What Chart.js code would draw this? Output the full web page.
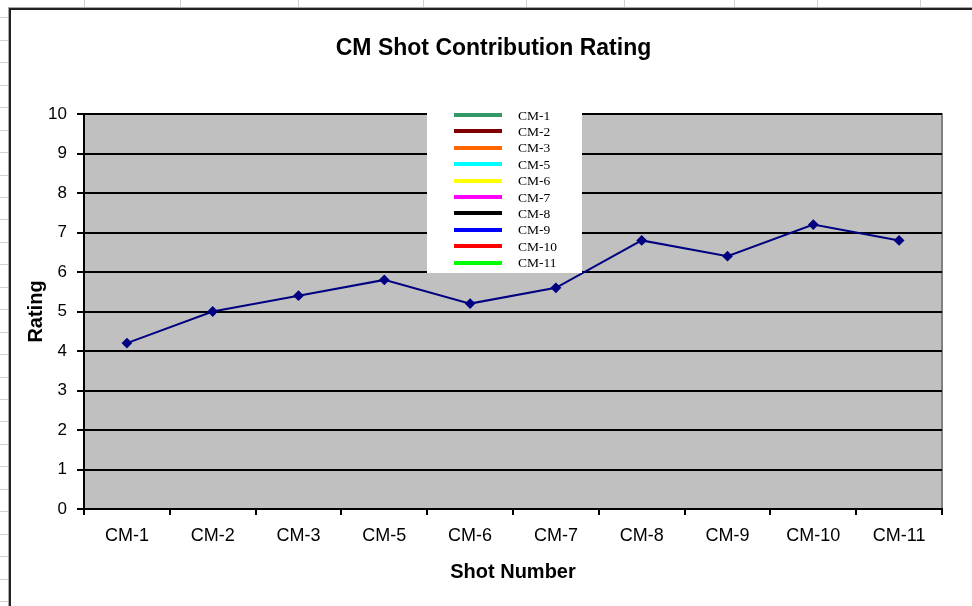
<!DOCTYPE html>
<html><head><meta charset="utf-8">
<script src="https://cdn.jsdelivr.net/npm/chart.js@4"></script>
<style>html,body{margin:0;padding:0;background:#fff;overflow:hidden}#wrap{position:absolute;left:0;top:0;width:972px;height:606px}</style>
</head><body><div id="wrap"><canvas id="c" width="972" height="606"></canvas></div>
<script>
const categories = ['CM-1','CM-2','CM-3','CM-5','CM-6','CM-7','CM-8','CM-9','CM-10','CM-11'];
const ratings = [4.2, 5.0, 5.4, 5.8, 5.2, 5.6, 6.8, 6.4, 7.2, 6.8];
const legendNames = ['CM-1','CM-2','CM-3','CM-5','CM-6','CM-7','CM-8','CM-9','CM-10','CM-11'];
const legendColors = ['#339966','#800000','#FF6600','#00FFFF','#FFFF00','#FF00FF','#000000','#0000FF','#FF0000','#00FF00'];
const chartTitle = 'CM Shot Contribution Rating';
const xTitle = 'Shot Number';
const yTitle = 'Rating';

const SANS = '"Liberation Sans", Arial, sans-serif';
const SERIF = '"Liberation Serif", "Times New Roman", serif';

const backdrop = {
  id: 'backdrop',
  beforeDraw(chart) {
    const ctx = chart.ctx, a = chart.chartArea;
    ctx.save();
    ctx.fillStyle = '#fff';
    ctx.fillRect(0, 0, chart.width, chart.height);
    // spreadsheet cell lines outside the chart object
    ctx.strokeStyle = '#d0d0d0'; ctx.lineWidth = 1;
    [84, 180, 298, 423, 526, 624, 734, 817, 920].forEach(x => {
      ctx.beginPath(); ctx.moveTo(x + 0.5, 0); ctx.lineTo(x + 0.5, 7); ctx.stroke();
    });
    for (let y = 17.4; y < chart.height; y += 22.45) {
      const yy = Math.round(y) + 0.5;
      ctx.beginPath(); ctx.moveTo(0, yy); ctx.lineTo(8, yy); ctx.stroke();
    }
    // chart object border
    ctx.strokeStyle = '#a8a8a8'; ctx.lineWidth = 1;
    ctx.strokeRect(8.5, 7.5, 3000, 3000);
    ctx.strokeStyle = '#222'; ctx.lineWidth = 2;
    ctx.strokeRect(10, 9, 3000, 3000);
    // plot area
    ctx.fillStyle = '#c0c0c0';
    ctx.fillRect(a.left, a.top, a.right - a.left, a.bottom - a.top);
    ctx.strokeStyle = '#808080'; ctx.lineWidth = 2;
    ctx.strokeRect(a.left, a.top, a.right - a.left, a.bottom - a.top);
    ctx.restore();
  }
};

const boxLegend = {
  id: 'boxLegend',
  afterDatasetsDraw(chart) {
    const ctx = chart.ctx;
    ctx.save();
    ctx.fillStyle = '#fff';
    ctx.fillRect(427, 106, 155, 167);
    ctx.font = '13.5px ' + SERIF;
    ctx.textBaseline = 'middle';
    legendNames.forEach((n, i) => {
      const y = 115 + i * 16.4;
      ctx.fillStyle = legendColors[i];
      ctx.fillRect(454, Math.round(y) - 2, 48, 4);
      ctx.fillStyle = '#000';
      ctx.fillText(n, 518, y + 1);
    });
    ctx.restore();
  }
};

new Chart(document.getElementById('c'), {
  type: 'line',
  data: {
    labels: categories,
    datasets: [{
      label: yTitle,
      data: ratings,
      borderColor: '#000080',
      backgroundColor: '#000080',
      borderWidth: 2,
      pointStyle: 'rectRot',
      pointRadius: 4,
      pointHoverRadius: 4,
      pointBackgroundColor: '#000080',
      pointBorderColor: '#000080',
      tension: 0,
      fill: false
    }]
  },
  options: {
    responsive: false,
    animation: false,
    devicePixelRatio: 1,
    layout: { padding: { left: 45, right: 30, top: 0, bottom: 0 } },
    plugins: {
      legend: { display: false },
      tooltip: { enabled: false },
      title: {
        display: true, text: chartTitle, color: '#000',
        font: { family: SANS, size: 23, weight: 'bold' },
        padding: { top: 35, bottom: 51.4 }
      }
    },
    scales: {
      x: {
        offset: true,
        afterFit(s) { s.height = 97; },
        grid: { offset: true, drawOnChartArea: false, drawTicks: true, tickLength: 6, color: '#000', lineWidth: 2 },
        border: { display: true, color: '#000', width: 2 },
        ticks: { color: '#000', font: { family: SANS, size: 18 }, padding: 10, maxRotation: 0, autoSkip: false },
        title: { display: true, text: xTitle, color: '#000', font: { family: SANS, size: 20, weight: 'bold' }, padding: { top: 0, bottom: 22 } }
      },
      y: {
        min: 0, max: 10,
        afterFit(s) { s.width = 39; },
        grid: { color: '#000', lineWidth: 2, tickLength: 7, drawTicks: true },
        border: { display: true, color: '#000', width: 2 },
        ticks: { stepSize: 1, color: '#000', font: { family: SANS, size: 17 }, padding: 10 },
        title: { display: true, text: yTitle, color: '#000', font: { family: SANS, size: 20, weight: 'bold' }, padding: { top: -21, bottom: 0 } }
      }
    }
  },
  plugins: [backdrop, boxLegend]
});
</script>
</body></html>
